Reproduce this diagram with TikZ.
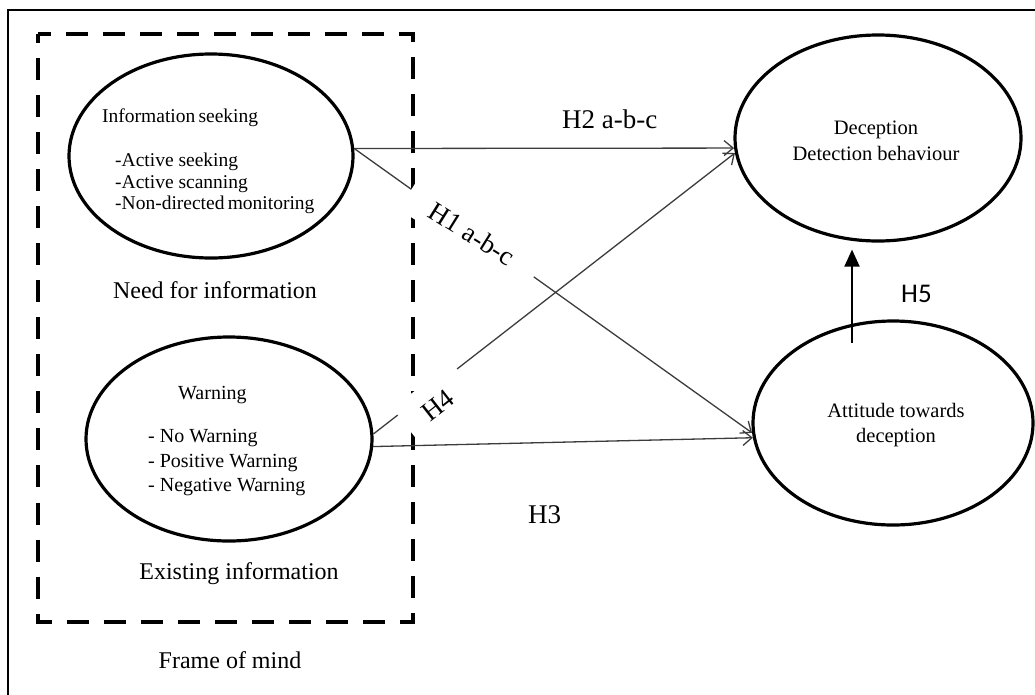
\documentclass[tikz,border=0pt]{standalone}
\usepackage{fontspec}
\setmainfont{Liberation Serif}
\newfontfamily\calibfont{Carlito}
\usetikzlibrary{shapes.geometric,arrows.meta}
\definecolor{linegray}{RGB}{60,60,60}

\begin{document}
\begin{tikzpicture}[x=1pt, y=-1pt,
  oval/.style={ellipse, draw, line width=3.2pt, inner sep=0pt, minimum width=284pt, minimum height=204pt},
  caption/.style={font=\fontsize{24}{28}\selectfont, anchor=base},
  hyp/.style={font=\fontsize{27}{30}\selectfont, inner sep=2pt},
  link/.style={draw=linegray, line width=1.3pt, -{Straight Barb[length=9pt,width=15pt]}}]

  \clip (0,0) rectangle (1035,694);
  \draw[line width=2pt] (8,10) rectangle (1050,710);
  \draw[line width=4.5pt, dash pattern=on 22pt off 15.04pt, dash phase=13pt] (38,34) rectangle (413,622);

  \node[oval] (seek) at (211,156) {};
  \node[oval, minimum width=286pt] (warn) at (229,439) {};
  \node[oval, minimum width=286pt, minimum height=206pt] (decept) at (878,138) {};
  \node[oval, minimum width=280pt] (att) at (893,423) {};

  \node[font=\fontsize{19.5}{21.5}\selectfont, align=left, anchor=west, inner sep=0pt] (seektxt) at (102,161)
    {Information\,seeking\\[23pt]\hspace*{13pt}-Active seeking\\\hspace*{13pt}-Active scanning\\\hspace*{13pt}-Non-directed\,monitoring};
  \node[font=\fontsize{20}{24.5}\selectfont, align=left, anchor=west, inner sep=0pt] (warntxt) at (148,441)
    {\hspace*{30pt}Warning\\[19pt]- No Warning\\- Positive Warning\\- Negative Warning};
  \node[font=\fontsize{20.5}{26}\selectfont, align=center] (dectxt) at (876,141) {Deception\\Detection behaviour};
  \node[font=\fontsize{20.5}{25}\selectfont, align=center] (atttxt) at (896,425) {Attitude towards\\deception};

  \node[caption] (needcap) at (215,298) {Need for information};
  \node[caption] (existcap) at (239,579) {Existing information};
  \node[caption] (framecap) at (230,668) {Frame of mind};

  % hypotheses
  \draw[link] (seek.3) -- (decept.184);
  \draw[link] (seek.3) -- (att.184);
  \draw[link] (warn.2) -- (decept.186);
  \draw[link] (warn.-3) -- (att.186);
  \draw[line width=2pt, -{Triangle[length=17pt,width=15pt]}] ([xshift=-41pt,yshift=80pt]att.center) -- ([xshift=-26pt,yshift=-7pt]decept.south);

  \node[hyp, anchor=base west] (h2) at (560,128) {H2 a-b-c};
  \node[hyp, fill=white, rotate=-32, minimum width=150pt, minimum height=36pt] (h1) at (472,234) {H1 a-b-c};
  \node[hyp, fill=white, rotate=38, minimum width=75pt, text height=32pt, text depth=8pt, anchor=base] (h4) at (443,412) {H4};
  \node[hyp, anchor=base west] (h3) at (526,523) {H3};
  \node[hyp, font=\calibfont\fontsize{27}{30}\selectfont, anchor=base west] (h5) at (899,302) {H5};
\end{tikzpicture}
\end{document}
